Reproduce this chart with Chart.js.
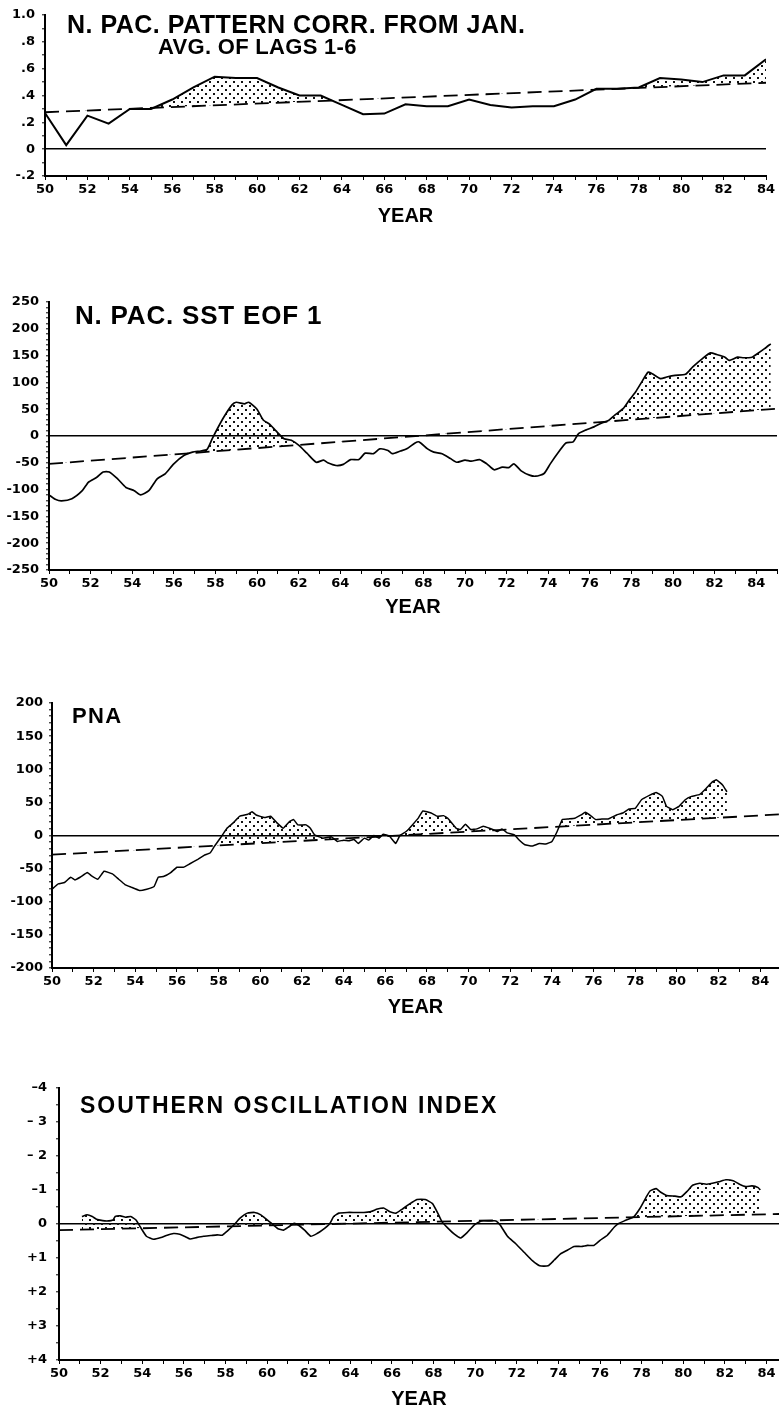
<!DOCTYPE html>
<html>
<head>
<meta charset="utf-8">
<title>North Pacific indices 1950-84</title>
<script src="https://cdn.jsdelivr.net/npm/chart.js@4.4.1/dist/chart.umd.min.js"></script>
<style>
  body { margin: 0; background: #fff; }
  #page { position: relative; width: 779px; height: 1411px; overflow: hidden; background: #fff; }
  #page canvas { position: absolute; left: 0; }
  .ttl {
    position: absolute;
    font-family: "Liberation Sans", Arial, sans-serif;
    font-weight: bold;
    line-height: 1;
    white-space: nowrap;
    color: #000;
  }
</style>
</head>
<body>
<div id="page">
  <canvas id="corrChart" width="779" height="228" style="top:0px"></canvas>
  <canvas id="sstChart" width="779" height="359" style="top:260px"></canvas>
  <canvas id="pnaChart" width="779" height="359" style="top:660px"></canvas>
  <canvas id="soiChart" width="779" height="361" style="top:1050px"></canvas>

  <div class="ttl" style="left:67px; top:12px; font-size:25px; letter-spacing:0.5px;">N. PAC. PATTERN CORR. FROM JAN.</div>
  <div class="ttl" style="left:158px; top:36px; font-size:22px; letter-spacing:0.3px;">AVG. OF LAGS 1-6</div>
  <div class="ttl" style="left:75px; top:302px; font-size:26px; letter-spacing:0.8px;">N. PAC. SST EOF 1</div>
  <div class="ttl" style="left:72px; top:705px; font-size:22px; letter-spacing:1.3px;">PNA</div>
  <div class="ttl" style="left:80px; top:1094px; font-size:23px; letter-spacing:2px;">SOUTHERN OSCILLATION INDEX</div>
</div>

<script>
// Pattern correlation, annual values
const corrYears = [50, 51, 52, 53, 54, 55, 56, 57, 58, 59, 60, 61, 62, 63, 64, 65, 66, 67,
  68, 69, 70, 71, 72, 73, 74, 75, 76, 77, 78, 79, 80, 81, 82, 83, 84];
const corrValues = [0.27, 0.03, 0.25, 0.19, 0.30, 0.30, 0.37, 0.46, 0.54, 0.53, 0.53, 0.46,
  0.40, 0.40, 0.33, 0.26, 0.265, 0.335, 0.32, 0.32, 0.37, 0.33, 0.31, 0.32, 0.32, 0.37,
  0.45, 0.45, 0.46, 0.53, 0.52, 0.50, 0.55, 0.55, 0.67];
const corrTrendYears = [50, 84];
const corrTrendValues = [0.275, 0.495];
const corrTickValues = [-0.2, 0, 0.2, 0.4, 0.6, 0.8, 1.0];
const corrTickLabels = ["-.2", "0", ".2", ".4", ".6", ".8", "1.0"];

// N. Pac. SST EOF 1
const sstYears = [50.0, 50.3, 50.6, 51.1, 51.6, 51.9, 52.3, 52.6, 52.9, 53.3, 53.7, 54.1,
  54.4, 54.8, 55.2, 55.6, 56.0, 56.5, 56.9, 57.3, 57.6, 57.85, 58.1, 58.4, 58.8, 59.0, 59.4,
  59.6, 60.0, 60.3, 60.6, 60.9, 61.3, 61.65, 62.0, 62.4, 62.85, 63.2, 63.4, 63.8, 64.15, 64.5,
  64.9, 65.2, 65.6, 65.9, 66.3, 66.5, 66.9, 67.2, 67.6, 67.8, 68.2, 68.5, 68.9, 69.3, 69.6,
  70.0, 70.3, 70.7, 71.05, 71.4, 71.8, 72.1, 72.35, 72.7, 73.1, 73.4, 73.8, 74.1, 74.5, 74.85,
  75.2, 75.45, 75.8, 76.2, 76.5, 76.9, 77.2, 77.6, 77.9, 78.2, 78.5, 78.8, 79.0, 79.4, 79.7,
  80.1, 80.6, 80.95, 81.4, 81.8, 82.1, 82.5, 82.7, 83.1, 83.4, 83.8, 84.0, 84.4, 84.7];
const sstValues = [-110, -118, -121, -117, -102, -86, -77, -67, -67, -80, -96, -102,
  -110, -102, -80, -70, -52, -36, -30, -28, -25, -5, 14, 35, 58, 63, 60,
  63, 50, 30, 22, 10, -5, -8, -17, -32, -49, -45, -50, -55, -53, -44,
  -44, -32, -33, -24, -27, -33, -28, -24, -13, -11, -24, -30, -33, -42, -49,
  -45, -47, -44, -52, -63, -58, -59, -52, -65, -73, -75, -70, -52, -30, -13,
  -11, 4, 11, 17, 23, 29, 39, 51, 67, 82, 101, 119, 116, 107, 110,
  113, 115, 129, 144, 155, 152, 147, 141, 147, 146, 147, 152, 163, 172];
const sstTrendYears = [50, 85];
const sstTrendValues = [-52, 51];
const sstTickValues = [-250, -200, -150, -100, -50, 0, 50, 100, 150, 200, 250];
const sstTickLabels = ["-250", "-200", "-150", "-100", "-50", "0", "50", "100", "150", "200", "250"];

// PNA index
const pnaYears = [50.0, 50.3, 50.6, 50.9, 51.1, 51.35, 51.7, 51.9, 52.2, 52.5, 52.9, 53.2,
  53.5, 53.8, 54.2, 54.55, 54.9, 55.1, 55.35, 55.7, 56.0, 56.3, 56.6, 57.0, 57.3, 57.6, 57.8,
  58.1, 58.4, 58.7, 59.0, 59.4, 59.6, 59.8, 60.2, 60.5, 60.8, 61.1, 61.4, 61.6, 61.8, 62.2,
  62.4, 62.6, 63.0, 63.4, 63.7, 64.0, 64.25, 64.5, 64.7, 65.0, 65.2, 65.45, 65.7, 65.9, 66.2,
  66.5, 66.7, 67.0, 67.3, 67.6, 67.8, 68.2, 68.5, 68.8, 69.0, 69.4, 69.6, 69.85, 70.1, 70.4,
  70.7, 71.0, 71.4, 71.6, 71.85, 72.2, 72.4, 72.7, 73.05, 73.4, 73.7, 74.0, 74.25, 74.5, 74.8,
  75.1, 75.4, 75.6, 75.9, 76.1, 76.4, 76.7, 77.1, 77.4, 77.7, 78.0, 78.3, 78.7, 79.0, 79.3,
  79.5, 79.8, 80.1, 80.4, 80.7, 81.1, 81.4, 81.7, 81.9, 82.2, 82.4];
const pnaValues = [-81, -73, -71, -63, -67, -63, -56, -61, -66, -54, -58, -66,
  -74, -78, -83, -81, -77, -63, -62, -56, -48, -48, -43, -36, -30, -26, -16,
  -3, 11, 19, 29, 32, 36, 31, 27, 29, 19, 11, 21, 24, 16, 16,
  11, 1, -4, -2, -9, -7, -8, -6, -12, -4, -7, 0, -4, 2, -1,
  -12, 0, 6, 16, 27, 37, 34, 29, 30, 26, 11, 9, 17, 9, 10,
  14, 11, 6, 10, 4, 1, -6, -14, -16, -12, -13, -9, 6, 24, 25,
  26, 31, 35, 29, 24, 25, 25, 31, 34, 40, 41, 54, 61, 65, 59,
  44, 39, 44, 54, 59, 62, 71, 81, 84, 76, 66];
const pnaTrendYears = [50, 85];
const pnaTrendValues = [-29, 32];
const pnaTickValues = [-200, -150, -100, -50, 0, 50, 100, 150, 200];
const pnaTickLabels = ["-200", "-150", "-100", "-50", "0", "50", "100", "150", "200"];

// Southern Oscillation Index (axis runs negative upwards)
const soiYears = [51.1, 51.35, 51.6, 51.8, 52.1, 52.3, 52.6, 52.7, 52.95, 53.2, 53.45, 53.7,
  53.9, 54.2, 54.55, 54.9, 55.2, 55.5, 55.8, 56.1, 56.3, 56.6, 56.95, 57.3, 57.6, 57.85, 58.1,
  58.4, 58.7, 59.05, 59.4, 59.7, 60.0, 60.25, 60.5, 60.8, 61.05, 61.3, 61.5, 61.8, 62.1, 62.4,
  62.65, 63.0, 63.2, 63.45, 63.85, 64.2, 64.65, 65.0, 65.3, 65.6, 65.9, 66.2, 66.5, 66.8,
  67.2, 67.6, 67.95, 68.2, 68.4, 68.7, 69.0, 69.3, 69.6, 69.95, 70.3, 70.7, 71.0, 71.2,
  71.55, 71.95, 72.35, 72.75, 73.1, 73.5, 73.8, 74.1, 74.4, 74.75, 75.1, 75.4, 75.7, 76.0,
  76.35, 76.7, 76.9, 77.2, 77.6, 77.9, 78.2, 78.4, 78.7, 78.9, 79.2, 79.6, 79.9, 80.2, 80.45,
  80.8, 81.1, 81.4, 81.7, 82.05, 82.4, 82.7, 83.0, 83.3, 83.6, 83.7];
const soiValues = [-0.22, -0.27, -0.22, -0.14, -0.10, -0.09, -0.12, -0.22, -0.24, -0.20, -0.22, -0.12,
  0.08, 0.36, 0.45, 0.40, 0.33, 0.28, 0.30, 0.38, 0.44, 0.40, 0.36, 0.34, 0.32, 0.33, 0.20,
  0.03, -0.17, -0.32, -0.34, -0.27, -0.12, 0, 0.13, 0.18, 0.08, -0.02, 0.03, 0.18, 0.36, 0.28,
  0.18, 0, -0.22, -0.32, -0.34, -0.34, -0.34, -0.37, -0.44, -0.47, -0.36, -0.32, -0.44, -0.57,
  -0.72, -0.72, -0.60, -0.32, -0.07, 0.13, 0.30, 0.41, 0.26, 0.03, -0.09, -0.09, -0.09, 0.03,
  0.36, 0.58, 0.83, 1.08, 1.23, 1.23, 1.06, 0.88, 0.78, 0.66, 0.66, 0.63, 0.63, 0.48,
  0.33, 0.08, -0.02, -0.10, -0.20, -0.44, -0.77, -0.97, -1.04, -0.94, -0.84, -0.82, -0.80, -0.97, -1.14,
  -1.20, -1.17, -1.20, -1.24, -1.30, -1.27, -1.17, -1.10, -1.12, -1.07, -1.00];
const soiTrendYears = [50, 85];
const soiTrendValues = [0.18, -0.30];
const soiTickValues = [-4, -3, -2, -1, 0, 1, 2, 3, 4];
const soiTickLabels = ["\u20134", "\u2013 3", "\u2013 2", "\u20131", "0", "+1", "+2", "+3", "+4"];

const tickFont = { family: "'DejaVu Sans', sans-serif", weight: "bold", size: 13 };
const yearFont = { family: "'Liberation Sans', Arial, sans-serif", weight: "bold", size: 20 };

// dotted fill like the stippled areas of the original
function makeStipple(ctx) {
  const tile = document.createElement("canvas");
  tile.width = 8;
  tile.height = 8;
  const t = tile.getContext("2d");
  t.fillStyle = "#111";
  t.fillRect(1, 1, 2, 2);
  t.fillRect(5, 5, 2, 2);
  return ctx.createPattern(tile, "repeat");
}

function toPoints(xs, ys) {
  return xs.map(function (x, i) {
    return { x: x, y: ys[i] };
  });
}

function tickText(values, labels) {
  return function (v) {
    const i = values.findIndex(function (t) {
      return Math.abs(t - v) < 1e-6;
    });
    return i >= 0 ? labels[i] : "";
  };
}

function buildPanel(id, p) {
  const ctx = document.getElementById(id).getContext("2d");
  return new Chart(ctx, {
    type: "line",
    data: {
      datasets: [
        {
          data: toPoints(p.years, p.values),
          borderColor: "#000",
          borderWidth: p.lineWidth,
          pointRadius: 0,
          tension: p.tension,
          fill: { target: 1, above: makeStipple(ctx), below: "rgba(0,0,0,0)" },
        },
        {
          data: toPoints(p.trendYears, p.trendValues),
          borderColor: "#000",
          borderWidth: 1.8,
          borderDash: [14, 7],
          pointRadius: 0,
          fill: false,
        },
      ],
    },
    options: {
      responsive: false,
      animation: false,
      events: [],
      layout: { padding: { top: p.padTop, right: p.padRight, left: 0, bottom: 0 } },
      plugins: { legend: { display: false }, tooltip: { enabled: false } },
      scales: {
        x: {
          type: "linear",
          min: 50,
          max: p.xMax,
          afterBuildTicks: function (scale) {
            scale.ticks = scale.ticks.filter(function (t) {
              return Math.abs(t.value - Math.round(t.value)) < 1e-6;
            });
          },
          afterFit: function (scale) {
            scale.height = p.axisHeight;
          },
          ticks: {
            stepSize: 1,
            includeBounds: false,
            autoSkip: false,
            maxRotation: 0,
            padding: 2,
            color: "#000",
            font: tickFont,
            callback: function (v) {
              return v % 2 === 0 && v <= 84 ? String(v) : "";
            },
          },
          grid: { drawOnChartArea: false, tickLength: 4, tickColor: "#000", tickWidth: 1, color: "#000" },
          border: { display: true, color: "#000", width: 2 },
          title: { display: true, text: "YEAR", color: "#000", font: yearFont, padding: 0 },
        },
        y: {
          type: "linear",
          min: p.yMin,
          max: p.yMax,
          reverse: !!p.reverse,
          afterFit: function (scale) {
            scale.width = p.axisWidth;
          },
          ticks: {
            stepSize: p.yStep,
            autoSkip: false,
            padding: p.labelGap,
            color: "#000",
            font: tickFont,
            callback: tickText(p.tickValues, p.tickLabels),
          },
          grid: {
            color: function (c) {
              return c.tick && Math.abs(c.tick.value) < 1e-9 ? "#000" : "rgba(0,0,0,0)";
            },
            lineWidth: 1.6,
            tickLength: 3,
            tickColor: "#000",
            tickWidth: 1,
          },
          border: { display: true, color: "#000", width: 2 },
        },
      },
    },
  });
}

// Panel 1: pattern correlation
buildPanel("corrChart", {
  years: corrYears, values: corrValues,
  trendYears: corrTrendYears, trendValues: corrTrendValues,
  xMax: 84, yMin: -0.2, yMax: 1.0, yStep: 0.1,
  tickValues: corrTickValues, tickLabels: corrTickLabels,
  axisWidth: 45, axisHeight: 52, padTop: 15, padRight: 13, labelGap: 7,
  tension: 0, lineWidth: 2,
});

// Panel 2: SST EOF 1
buildPanel("sstChart", {
  years: sstYears, values: sstValues,
  trendYears: sstTrendYears, trendValues: sstTrendValues,
  xMax: 85, yMin: -250, yMax: 250, yStep: 10,
  tickValues: sstTickValues, tickLabels: sstTickLabels,
  axisWidth: 49, axisHeight: 49, padTop: 42, padRight: 0, labelGap: 7,
  tension: 0.2, lineWidth: 1.7,
});

// Panel 3: PNA
buildPanel("pnaChart", {
  years: pnaYears, values: pnaValues,
  trendYears: pnaTrendYears, trendValues: pnaTrendValues,
  xMax: 84.9, yMin: -200, yMax: 200, yStep: 10,
  tickValues: pnaTickValues, tickLabels: pnaTickLabels,
  axisWidth: 52, axisHeight: 51, padTop: 43, padRight: 0, labelGap: 6,
  tension: 0.1, lineWidth: 1.5,
});

// Panel 4: SOI
buildPanel("soiChart", {
  years: soiYears, values: soiValues,
  trendYears: soiTrendYears, trendValues: soiTrendValues,
  xMax: 84.6, yMin: -4, yMax: 4, yStep: 0.5, reverse: true,
  tickValues: soiTickValues, tickLabels: soiTickLabels,
  axisWidth: 59, axisHeight: 51, padTop: 38, padRight: 0, labelGap: 9,
  tension: 0.15, lineWidth: 1.6,
});
</script>
</body>
</html>
